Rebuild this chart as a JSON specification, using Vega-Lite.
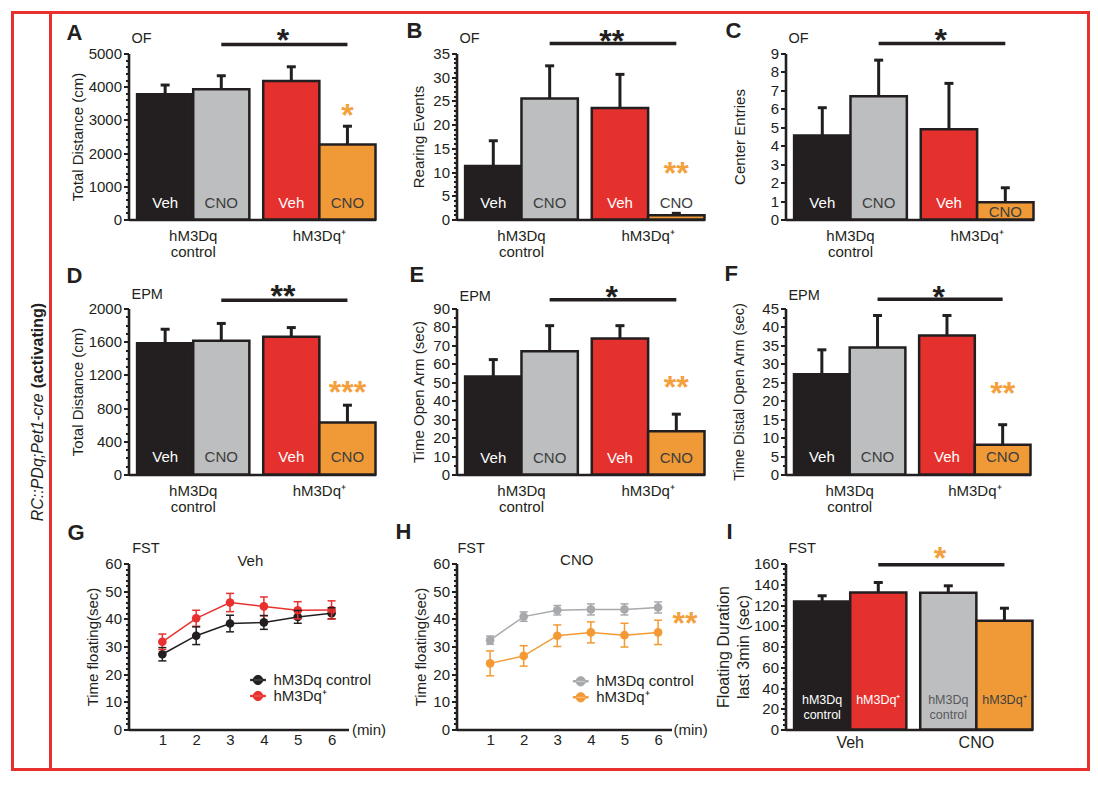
{
"$schema": "https://vega.github.io/schema/vega-lite/v6.json",
"background": "white",
"padding": {"left": 10.5, "top": 10.5, "right": 4, "bottom": 4},
"config": {
  "font": "Liberation Sans",
  "view": {"stroke": null},
  "axis": {"labelFont": "Liberation Sans", "titleFont": "Liberation Sans", "domainColor": "#231f20", "domainWidth": 2.6, "tickColor": "#231f20", "tickWidth": 2, "labelColor": "#231f20", "titleColor": "#231f20", "labelFontSize": 15, "titleFontSize": 15, "titleFontWeight": "normal", "labelPadding": 2, "grid": false, "labelOverlap": false, "tickCount": 100},
  "title": {"color": "#231f20", "font": "Liberation Sans"},
  "legend": {"labelColor": "#231f20", "labelFontSize": 15, "labelFont": "Liberation Sans"}
},
"datasets": {
  "bars": [
    {"panel": "A", "genotype": "hM3Dq control", "drug": "Veh", "mean": 3770, "sem": 280},
    {"panel": "A", "genotype": "hM3Dq control", "drug": "CNO", "mean": 3920, "sem": 410},
    {"panel": "A", "genotype": "hM3Dq⁺", "drug": "Veh", "mean": 4170, "sem": 430},
    {"panel": "A", "genotype": "hM3Dq⁺", "drug": "CNO", "mean": 2260, "sem": 550},
    {"panel": "B", "genotype": "hM3Dq control", "drug": "Veh", "mean": 11.3, "sem": 5.3},
    {"panel": "B", "genotype": "hM3Dq control", "drug": "CNO", "mean": 25.5, "sem": 6.9},
    {"panel": "B", "genotype": "hM3Dq⁺", "drug": "Veh", "mean": 23.5, "sem": 7.1},
    {"panel": "B", "genotype": "hM3Dq⁺", "drug": "CNO", "mean": 0.9, "sem": 0.4},
    {"panel": "C", "genotype": "hM3Dq control", "drug": "Veh", "mean": 4.56, "sem": 1.5},
    {"panel": "C", "genotype": "hM3Dq control", "drug": "CNO", "mean": 6.68, "sem": 1.96},
    {"panel": "C", "genotype": "hM3Dq⁺", "drug": "Veh", "mean": 4.89, "sem": 2.49},
    {"panel": "C", "genotype": "hM3Dq⁺", "drug": "CNO", "mean": 0.93, "sem": 0.79},
    {"panel": "D", "genotype": "hM3Dq control", "drug": "Veh", "mean": 1580, "sem": 170},
    {"panel": "D", "genotype": "hM3Dq control", "drug": "CNO", "mean": 1610, "sem": 210},
    {"panel": "D", "genotype": "hM3Dq⁺", "drug": "Veh", "mean": 1660, "sem": 110},
    {"panel": "D", "genotype": "hM3Dq⁺", "drug": "CNO", "mean": 627, "sem": 208},
    {"panel": "E", "genotype": "hM3Dq control", "drug": "Veh", "mean": 53.2, "sem": 9.1},
    {"panel": "E", "genotype": "hM3Dq control", "drug": "CNO", "mean": 66.8, "sem": 13.9},
    {"panel": "E", "genotype": "hM3Dq⁺", "drug": "Veh", "mean": 73.8, "sem": 6.9},
    {"panel": "E", "genotype": "hM3Dq⁺", "drug": "CNO", "mean": 23.5, "sem": 9.2},
    {"panel": "F", "genotype": "hM3Dq control", "drug": "Veh", "mean": 27.2, "sem": 6.6},
    {"panel": "F", "genotype": "hM3Dq control", "drug": "CNO", "mean": 34.4, "sem": 8.7},
    {"panel": "F", "genotype": "hM3Dq⁺", "drug": "Veh", "mean": 37.7, "sem": 5.4},
    {"panel": "F", "genotype": "hM3Dq⁺", "drug": "CNO", "mean": 8.05, "sem": 5.45},
    {"panel": "I", "genotype": "hM3Dq control", "drug": "Veh", "mean": 123.4, "sem": 5.5},
    {"panel": "I", "genotype": "hM3Dq⁺", "drug": "Veh", "mean": 132, "sem": 9.7},
    {"panel": "I", "genotype": "hM3Dq control", "drug": "CNO", "mean": 131.7, "sem": 6.8},
    {"panel": "I", "genotype": "hM3Dq⁺", "drug": "CNO", "mean": 104.8, "sem": 12.1}
  ],
  "lines": [
    {"panel": "G", "series": "hM3Dq control", "minute": 1, "mean": 27.2, "sem": 2.4},
    {"panel": "G", "series": "hM3Dq control", "minute": 2, "mean": 33.9, "sem": 3.2},
    {"panel": "G", "series": "hM3Dq control", "minute": 3, "mean": 38.3, "sem": 3.0},
    {"panel": "G", "series": "hM3Dq control", "minute": 4, "mean": 38.7, "sem": 2.5},
    {"panel": "G", "series": "hM3Dq control", "minute": 5, "mean": 40.7, "sem": 2.3},
    {"panel": "G", "series": "hM3Dq control", "minute": 6, "mean": 42.0, "sem": 2.0},
    {"panel": "G", "series": "hM3Dq⁺", "minute": 1, "mean": 31.7, "sem": 2.8},
    {"panel": "G", "series": "hM3Dq⁺", "minute": 2, "mean": 40.2, "sem": 2.9},
    {"panel": "G", "series": "hM3Dq⁺", "minute": 3, "mean": 45.9, "sem": 3.3},
    {"panel": "G", "series": "hM3Dq⁺", "minute": 4, "mean": 44.5, "sem": 3.4},
    {"panel": "G", "series": "hM3Dq⁺", "minute": 5, "mean": 43.1, "sem": 3.1},
    {"panel": "G", "series": "hM3Dq⁺", "minute": 6, "mean": 43.2, "sem": 3.3},
    {"panel": "H", "series": "hM3Dq control", "minute": 1, "mean": 32.3, "sem": 1.5},
    {"panel": "H", "series": "hM3Dq control", "minute": 2, "mean": 40.8, "sem": 1.7},
    {"panel": "H", "series": "hM3Dq control", "minute": 3, "mean": 43.1, "sem": 1.7},
    {"panel": "H", "series": "hM3Dq control", "minute": 4, "mean": 43.4, "sem": 2.0},
    {"panel": "H", "series": "hM3Dq control", "minute": 5, "mean": 43.4, "sem": 2.0},
    {"panel": "H", "series": "hM3Dq control", "minute": 6, "mean": 44.1, "sem": 2.0},
    {"panel": "H", "series": "hM3Dq⁺", "minute": 1, "mean": 23.9, "sem": 4.5},
    {"panel": "H", "series": "hM3Dq⁺", "minute": 2, "mean": 26.6, "sem": 3.7},
    {"panel": "H", "series": "hM3Dq⁺", "minute": 3, "mean": 33.9, "sem": 3.9},
    {"panel": "H", "series": "hM3Dq⁺", "minute": 4, "mean": 35.1, "sem": 3.8},
    {"panel": "H", "series": "hM3Dq⁺", "minute": 5, "mean": 34.1, "sem": 4.3},
    {"panel": "H", "series": "hM3Dq⁺", "minute": 6, "mean": 35.1, "sem": 4.4}
  ]
},
"columns": 2,
"align": "none",
"spacing": -1024,
"concat": [
  {"columns": 2, "align": "none", "spacing": -4, "concat": [
    {"width": 38, "height": 757, "view": {"stroke": "#e8312f", "strokeWidth": 3}, "data": {"values": [{}]},
     "layer": [
       {"mark": {"type": "text", "angle": 270, "align": "right", "baseline": "middle", "fontSize": 16, "fontStyle": "italic", "color": "#231f20", "text": "RC::PDq;Pet1-cre"},
        "encoding": {"x": {"datum": 0.68, "type": "quantitative", "scale": {"domain": [0, 1]}, "axis": null}, "y": {"datum": 0.497, "type": "quantitative", "scale": {"domain": [0, 1]}, "axis": null}}},
       {"mark": {"type": "text", "angle": 270, "align": "left", "baseline": "middle", "fontSize": 16, "fontWeight": "bold", "color": "#231f20", "dx": 5, "text": "(activating)"},
        "encoding": {"x": {"datum": 0.68, "type": "quantitative", "axis": null}, "y": {"datum": 0.497, "type": "quantitative", "axis": null}}}
     ]},
    {"width": 1038, "height": 757, "view": {"stroke": "#e8312f", "strokeWidth": 3}, "data": {"values": []}, "mark": "point", "encoding": {}}
  ]},
  {"spacing": 6, "vconcat": [
    {"width": 1, "height": 1, "data": {"values": []}, "mark": "point", "encoding": {}},
    {"columns": 3, "bounds": "flush", "spacing": {"row": 89, "column": 81},
     "resolve": {"scale": {"color": "independent", "xOffset": "independent"}, "legend": {"color": "independent"}},
     "concat": [
      {"width": 247, "height": 166,
       "title": {"text": "A", "anchor": "start", "frame": "group", "dx": -62, "offset": -36.8, "baseline": "alphabetic", "fontSize": 22, "fontWeight": "bold"},
       "layer": [
         {"data": {"name": "bars"},
          "transform": [{"filter": "datum.panel === 'A'"}, {"calculate": "datum.mean + datum.sem", "as": "hi"}, {"calculate": "datum.genotype + '|' + datum.drug", "as": "cond"}],
          "encoding": {
            "x": {"field": "genotype", "type": "nominal", "scale": {"domain": ["hM3Dq control", "hM3Dq⁺"], "paddingInner": 0.11, "paddingOuter": 0.034, "align": 1}, "axis": {"title": null, "ticks": false, "labelAngle": 0, "labelExpr": "split(datum.label, ' ')", "labelPadding": 9, "labelLineHeight": 16, "labelOverlap": false}},
            "xOffset": {"field": "drug", "type": "nominal", "scale": {"domain": ["Veh", "CNO"], "paddingInner": 0, "paddingOuter": 0}}
          },
          "layer": [
            {"mark": {"type": "bar", "stroke": "#231f20", "strokeWidth": 2.5, "opacity": 1},
             "encoding": {
               "y": {"field": "mean", "type": "quantitative", "scale": {"domain": [0, 5000], "nice": false}, "axis": {"title": "Total Distance (cm)", "titlePadding": 3, "labelOverlap": false, "tickCount": 100, "values": [0,200,400,600,800,1000,1200,1400,1600,1800,2000,2200,2400,2600,2800,3000,3200,3400,3600,3800,4000,4200,4400,4600,4800,5000], "format": "d", "labelExpr": "datum.value % 1000 === 0 ? datum.label : ''", "tickSize": {"condition": {"test": "datum.value % 1000 === 0", "value": 5}, "value": 3}}},
               "fill": {"field": "cond", "type": "nominal", "scale": {"domain": ["hM3Dq control|Veh", "hM3Dq control|CNO", "hM3Dq⁺|Veh", "hM3Dq⁺|CNO"], "range": ["#231f20", "#bcbec0", "#e5312e", "#f09a37"]}, "legend": null}
             }},
            {"mark": {"type": "rule", "color": "#231f20", "strokeWidth": 3}, "encoding": {"y": {"field": "mean", "type": "quantitative"}, "y2": {"field": "hi"}}},
            {"mark": {"type": "tick", "orient": "horizontal", "color": "#231f20", "size": 9, "thickness": 3, "opacity": 1}, "encoding": {"y": {"field": "hi", "type": "quantitative"}}},
            {"mark": {"type": "text", "fontSize": 15, "baseline": "alphabetic"}, "encoding": {"y": {"datum": 349}, "text": {"field": "drug"}, "color": {"condition": {"test": "datum.drug === 'Veh'", "value": "#ffffff"}, "value": "#3d3d3d"}}},
            {"transform": [{"filter": "datum.drug === 'CNO'"}], "mark": {"type": "line", "color": "#231f20", "strokeWidth": 3.5}, "encoding": {"y": {"datum": 5271}}}
          ]},
         {"data": {"values": [{}]}, "mark": {"type": "text", "text": "*", "fontSize": 32, "fontWeight": "bold", "color": "#231f20", "baseline": "alphabetic"}, "encoding": {"x": {"datum": "hM3Dq control", "bandPosition": 1.3}, "y": {"datum": 5075}}},
         {"data": {"values": [{}]}, "mark": {"type": "text", "text": "*", "fontSize": 32, "fontWeight": "bold", "color": "#f4a03c", "baseline": "alphabetic"}, "encoding": {"x": {"datum": "hM3Dq⁺", "bandPosition": 0.75}, "y": {"datum": 2816}}},
         {"data": {"values": [{}]}, "mark": {"type": "text", "text": "OF", "fontSize": 14.5, "align": "left", "baseline": "alphabetic", "color": "#231f20"}, "encoding": {"x": {"datum": "hM3Dq control", "bandPosition": -0.05}, "y": {"datum": 5325}}}
       ]},
      {"width": 248, "height": 166,
       "title": {"text": "B", "anchor": "start", "frame": "group", "dx": -50, "offset": -34.4, "baseline": "alphabetic", "fontSize": 22, "fontWeight": "bold"},
       "layer": [
         {"data": {"name": "bars"},
          "transform": [{"filter": "datum.panel === 'B'"}, {"calculate": "datum.mean + datum.sem", "as": "hi"}, {"calculate": "datum.genotype + '|' + datum.drug", "as": "cond"}],
          "encoding": {
            "x": {"field": "genotype", "type": "nominal", "scale": {"domain": ["hM3Dq control", "hM3Dq⁺"], "paddingInner": 0.11, "paddingOuter": 0.034, "align": 1}, "axis": {"title": null, "ticks": false, "labelAngle": 0, "labelExpr": "split(datum.label, ' ')", "labelPadding": 9, "labelLineHeight": 16, "labelOverlap": false}},
            "xOffset": {"field": "drug", "type": "nominal", "scale": {"domain": ["Veh", "CNO"], "paddingInner": 0, "paddingOuter": 0}}
          },
          "layer": [
            {"mark": {"type": "bar", "stroke": "#231f20", "strokeWidth": 2.5, "opacity": 1},
             "encoding": {
               "y": {"field": "mean", "type": "quantitative", "scale": {"domain": [0, 35], "nice": false}, "axis": {"title": "Rearing Events", "titlePadding": 6, "labelOverlap": false, "tickCount": 100, "values": [0,1,2,3,4,5,6,7,8,9,10,11,12,13,14,15,16,17,18,19,20,21,22,23,24,25,26,27,28,29,30,31,32,33,34,35], "format": "d", "labelExpr": "datum.value % 5 === 0 ? datum.label : ''", "tickSize": {"condition": {"test": "datum.value % 5 === 0", "value": 5}, "value": 3}}},
               "fill": {"field": "cond", "type": "nominal", "scale": {"domain": ["hM3Dq control|Veh", "hM3Dq control|CNO", "hM3Dq⁺|Veh", "hM3Dq⁺|CNO"], "range": ["#231f20", "#bcbec0", "#e5312e", "#f09a37"]}, "legend": null}
             }},
            {"mark": {"type": "rule", "color": "#231f20", "strokeWidth": 3}, "encoding": {"y": {"field": "mean", "type": "quantitative"}, "y2": {"field": "hi"}}},
            {"mark": {"type": "tick", "orient": "horizontal", "color": "#231f20", "size": 9, "thickness": 3, "opacity": 1}, "encoding": {"y": {"field": "hi", "type": "quantitative"}}},
            {"mark": {"type": "text", "fontSize": 15, "baseline": "alphabetic"}, "encoding": {"y": {"datum": 2.45}, "text": {"field": "drug"}, "color": {"condition": {"test": "datum.drug === 'Veh'", "value": "#ffffff"}, "value": "#3d3d3d"}}},
            {"transform": [{"filter": "datum.drug === 'CNO'"}], "mark": {"type": "line", "color": "#231f20", "strokeWidth": 3.5}, "encoding": {"y": {"datum": 37.1}}}
          ]},
         {"data": {"values": [{}]}, "mark": {"type": "text", "text": "**", "fontSize": 32, "fontWeight": "bold", "color": "#231f20", "baseline": "alphabetic"}, "encoding": {"x": {"datum": "hM3Dq control", "bandPosition": 1.3}, "y": {"datum": 35.4}}},
         {"data": {"values": [{}]}, "mark": {"type": "text", "text": "**", "fontSize": 32, "fontWeight": "bold", "color": "#f4a03c", "baseline": "alphabetic"}, "encoding": {"x": {"datum": "hM3Dq⁺", "bandPosition": 0.75}, "y": {"datum": 7.4}}},
         {"data": {"values": [{}]}, "mark": {"type": "text", "text": "OF", "fontSize": 14.5, "align": "left", "baseline": "alphabetic", "color": "#231f20"}, "encoding": {"x": {"datum": "hM3Dq control", "bandPosition": -0.05}, "y": {"datum": 37.3}}}
       ]},
      {"width": 248, "height": 166,
       "title": {"text": "C", "anchor": "start", "frame": "group", "dx": -60, "offset": -35.1, "baseline": "alphabetic", "fontSize": 22, "fontWeight": "bold"},
       "layer": [
         {"data": {"name": "bars"},
          "transform": [{"filter": "datum.panel === 'C'"}, {"calculate": "datum.mean + datum.sem", "as": "hi"}, {"calculate": "datum.genotype + '|' + datum.drug", "as": "cond"}],
          "encoding": {
            "x": {"field": "genotype", "type": "nominal", "scale": {"domain": ["hM3Dq control", "hM3Dq⁺"], "paddingInner": 0.11, "paddingOuter": 0.034, "align": 1}, "axis": {"title": null, "ticks": false, "labelAngle": 0, "labelExpr": "split(datum.label, ' ')", "labelPadding": 9, "labelLineHeight": 16, "labelOverlap": false}},
            "xOffset": {"field": "drug", "type": "nominal", "scale": {"domain": ["Veh", "CNO"], "paddingInner": 0, "paddingOuter": 0}}
          },
          "layer": [
            {"mark": {"type": "bar", "stroke": "#231f20", "strokeWidth": 2.5, "opacity": 1},
             "encoding": {
               "y": {"field": "mean", "type": "quantitative", "scale": {"domain": [0, 9], "nice": false}, "axis": {"title": "Center Entries", "titlePadding": 23, "labelOverlap": false, "tickCount": 100, "values": [0,0.5,1,1.5,2,2.5,3,3.5,4,4.5,5,5.5,6,6.5,7,7.5,8,8.5,9], "format": "d", "labelExpr": "datum.value % 1 === 0 ? datum.label : ''", "tickSize": {"condition": {"test": "datum.value % 1 === 0", "value": 5}, "value": 3}}},
               "fill": {"field": "cond", "type": "nominal", "scale": {"domain": ["hM3Dq control|Veh", "hM3Dq control|CNO", "hM3Dq⁺|Veh", "hM3Dq⁺|CNO"], "range": ["#231f20", "#bcbec0", "#e5312e", "#f09a37"]}, "legend": null}
             }},
            {"mark": {"type": "rule", "color": "#231f20", "strokeWidth": 3}, "encoding": {"y": {"field": "mean", "type": "quantitative"}, "y2": {"field": "hi"}}},
            {"mark": {"type": "tick", "orient": "horizontal", "color": "#231f20", "size": 9, "thickness": 3, "opacity": 1}, "encoding": {"y": {"field": "hi", "type": "quantitative"}}},
            {"transform": [{"filter": "datum.cond !== 'hM3Dq⁺|CNO'"}], "mark": {"type": "text", "fontSize": 15, "baseline": "alphabetic"}, "encoding": {"y": {"datum": 0.63}, "text": {"field": "drug"}, "color": {"condition": {"test": "datum.drug === 'Veh'", "value": "#ffffff"}, "value": "#3d3d3d"}}},
            {"transform": [{"filter": "datum.cond === 'hM3Dq⁺|CNO'"}], "mark": {"type": "text", "fontSize": 15, "baseline": "alphabetic", "color": "#3d3d3d"}, "encoding": {"y": {"datum": 0.14}, "text": {"field": "drug"}}},
            {"transform": [{"filter": "datum.drug === 'CNO'"}], "mark": {"type": "line", "color": "#231f20", "strokeWidth": 3.5}, "encoding": {"y": {"datum": 9.54}}}
          ]},
         {"data": {"values": [{}]}, "mark": {"type": "text", "text": "*", "fontSize": 32, "fontWeight": "bold", "color": "#231f20", "baseline": "alphabetic"}, "encoding": {"x": {"datum": "hM3Dq control", "bandPosition": 1.3}, "y": {"datum": 9.14}}},
         {"data": {"values": [{}]}, "mark": {"type": "text", "text": "OF", "fontSize": 14.5, "align": "left", "baseline": "alphabetic", "color": "#231f20"}, "encoding": {"x": {"datum": "hM3Dq control", "bandPosition": -0.05}, "y": {"datum": 9.59}}}
       ]},
      {"width": 247, "height": 166,
       "title": {"text": "D", "anchor": "start", "frame": "group", "dx": -62, "offset": -23.5, "baseline": "alphabetic", "fontSize": 22, "fontWeight": "bold"},
       "layer": [
         {"data": {"name": "bars"},
          "transform": [{"filter": "datum.panel === 'D'"}, {"calculate": "datum.mean + datum.sem", "as": "hi"}, {"calculate": "datum.genotype + '|' + datum.drug", "as": "cond"}],
          "encoding": {
            "x": {"field": "genotype", "type": "nominal", "scale": {"domain": ["hM3Dq control", "hM3Dq⁺"], "paddingInner": 0.11, "paddingOuter": 0.034, "align": 1}, "axis": {"title": null, "ticks": false, "labelAngle": 0, "labelExpr": "split(datum.label, ' ')", "labelPadding": 9, "labelLineHeight": 16, "labelOverlap": false}},
            "xOffset": {"field": "drug", "type": "nominal", "scale": {"domain": ["Veh", "CNO"], "paddingInner": 0, "paddingOuter": 0}}
          },
          "layer": [
            {"mark": {"type": "bar", "stroke": "#231f20", "strokeWidth": 2.5, "opacity": 1},
             "encoding": {
               "y": {"field": "mean", "type": "quantitative", "scale": {"domain": [0, 2000], "nice": false}, "axis": {"title": "Total Distance (cm)", "titlePadding": 2.5, "labelOverlap": false, "tickCount": 100, "values": [0,100,200,300,400,500,600,700,800,900,1000,1100,1200,1300,1400,1500,1600,1700,1800,1900,2000], "format": "d", "labelExpr": "datum.value % 400 === 0 ? datum.label : ''", "tickSize": {"condition": {"test": "datum.value % 400 === 0", "value": 5}, "value": 3}}},
               "fill": {"field": "cond", "type": "nominal", "scale": {"domain": ["hM3Dq control|Veh", "hM3Dq control|CNO", "hM3Dq⁺|Veh", "hM3Dq⁺|CNO"], "range": ["#231f20", "#bcbec0", "#e5312e", "#f09a37"]}, "legend": null}
             }},
            {"mark": {"type": "rule", "color": "#231f20", "strokeWidth": 3}, "encoding": {"y": {"field": "mean", "type": "quantitative"}, "y2": {"field": "hi"}}},
            {"mark": {"type": "tick", "orient": "horizontal", "color": "#231f20", "size": 9, "thickness": 3, "opacity": 1}, "encoding": {"y": {"field": "hi", "type": "quantitative"}}},
            {"mark": {"type": "text", "fontSize": 15, "baseline": "alphabetic"}, "encoding": {"y": {"datum": 152}, "text": {"field": "drug"}, "color": {"condition": {"test": "datum.drug === 'Veh'", "value": "#ffffff"}, "value": "#3d3d3d"}}},
            {"transform": [{"filter": "datum.drug === 'CNO'"}], "mark": {"type": "line", "color": "#231f20", "strokeWidth": 3.5}, "encoding": {"y": {"datum": 2100}}}
          ]},
         {"data": {"values": [{}]}, "mark": {"type": "text", "text": "**", "fontSize": 32, "fontWeight": "bold", "color": "#231f20", "baseline": "alphabetic"}, "encoding": {"x": {"datum": "hM3Dq control", "bandPosition": 1.3}, "y": {"datum": 2018}}},
         {"data": {"values": [{}]}, "mark": {"type": "text", "text": "***", "fontSize": 32, "fontWeight": "bold", "color": "#f4a03c", "baseline": "alphabetic"}, "encoding": {"x": {"datum": "hM3Dq⁺", "bandPosition": 0.75}, "y": {"datum": 865}}},
         {"data": {"values": [{}]}, "mark": {"type": "text", "text": "EPM", "fontSize": 14.5, "align": "left", "baseline": "alphabetic", "color": "#231f20"}, "encoding": {"x": {"datum": "hM3Dq control", "bandPosition": -0.05}, "y": {"datum": 2118}}}
       ]},
      {"width": 248, "height": 166,
       "title": {"text": "E", "anchor": "start", "frame": "group", "dx": -47, "offset": -22.4, "baseline": "alphabetic", "fontSize": 22, "fontWeight": "bold"},
       "layer": [
         {"data": {"name": "bars"},
          "transform": [{"filter": "datum.panel === 'E'"}, {"calculate": "datum.mean + datum.sem", "as": "hi"}, {"calculate": "datum.genotype + '|' + datum.drug", "as": "cond"}],
          "encoding": {
            "x": {"field": "genotype", "type": "nominal", "scale": {"domain": ["hM3Dq control", "hM3Dq⁺"], "paddingInner": 0.11, "paddingOuter": 0.034, "align": 1}, "axis": {"title": null, "ticks": false, "labelAngle": 0, "labelExpr": "split(datum.label, ' ')", "labelPadding": 9, "labelLineHeight": 16, "labelOverlap": false}},
            "xOffset": {"field": "drug", "type": "nominal", "scale": {"domain": ["Veh", "CNO"], "paddingInner": 0, "paddingOuter": 0}}
          },
          "layer": [
            {"mark": {"type": "bar", "stroke": "#231f20", "strokeWidth": 2.5, "opacity": 1},
             "encoding": {
               "y": {"field": "mean", "type": "quantitative", "scale": {"domain": [0, 90], "nice": false}, "axis": {"title": "Time Open Arm (sec)", "titlePadding": 6, "labelOverlap": false, "tickCount": 100, "values": [0,5,10,15,20,25,30,35,40,45,50,55,60,65,70,75,80,85,90], "format": "d", "labelExpr": "datum.value % 10 === 0 ? datum.label : ''", "tickSize": {"condition": {"test": "datum.value % 10 === 0", "value": 5}, "value": 3}}},
               "fill": {"field": "cond", "type": "nominal", "scale": {"domain": ["hM3Dq control|Veh", "hM3Dq control|CNO", "hM3Dq⁺|Veh", "hM3Dq⁺|CNO"], "range": ["#231f20", "#bcbec0", "#e5312e", "#f09a37"]}, "legend": null}
             }},
            {"mark": {"type": "rule", "color": "#231f20", "strokeWidth": 3}, "encoding": {"y": {"field": "mean", "type": "quantitative"}, "y2": {"field": "hi"}}},
            {"mark": {"type": "tick", "orient": "horizontal", "color": "#231f20", "size": 9, "thickness": 3, "opacity": 1}, "encoding": {"y": {"field": "hi", "type": "quantitative"}}},
            {"mark": {"type": "text", "fontSize": 15, "baseline": "alphabetic"}, "encoding": {"y": {"datum": 6.3}, "text": {"field": "drug"}, "color": {"condition": {"test": "datum.drug === 'Veh'", "value": "#ffffff"}, "value": "#3d3d3d"}}},
            {"transform": [{"filter": "datum.drug === 'CNO'"}], "mark": {"type": "line", "color": "#231f20", "strokeWidth": 3.5}, "encoding": {"y": {"datum": 94.7}}}
          ]},
         {"data": {"values": [{}]}, "mark": {"type": "text", "text": "*", "fontSize": 32, "fontWeight": "bold", "color": "#231f20", "baseline": "alphabetic"}, "encoding": {"x": {"datum": "hM3Dq control", "bandPosition": 1.3}, "y": {"datum": 90.4}}},
         {"data": {"values": [{}]}, "mark": {"type": "text", "text": "**", "fontSize": 32, "fontWeight": "bold", "color": "#f4a03c", "baseline": "alphabetic"}, "encoding": {"x": {"datum": "hM3Dq⁺", "bandPosition": 0.75}, "y": {"datum": 41.6}}},
         {"data": {"values": [{}]}, "mark": {"type": "text", "text": "EPM", "fontSize": 14.5, "align": "left", "baseline": "alphabetic", "color": "#231f20"}, "encoding": {"x": {"datum": "hM3Dq control", "bandPosition": -0.05}, "y": {"datum": 94.1}}}
       ]},
      {"width": 245, "height": 166,
       "title": {"text": "F", "anchor": "start", "frame": "group", "dx": -61, "offset": -21.4, "baseline": "alphabetic", "fontSize": 22, "fontWeight": "bold"},
       "layer": [
         {"data": {"name": "bars"},
          "transform": [{"filter": "datum.panel === 'F'"}, {"calculate": "datum.mean + datum.sem", "as": "hi"}, {"calculate": "datum.genotype + '|' + datum.drug", "as": "cond"}],
          "encoding": {
            "x": {"field": "genotype", "type": "nominal", "scale": {"domain": ["hM3Dq control", "hM3Dq⁺"], "paddingInner": 0.11, "paddingOuter": 0.034, "align": 1}, "axis": {"title": null, "ticks": false, "labelAngle": 0, "labelExpr": "split(datum.label, ' ')", "labelPadding": 9, "labelLineHeight": 16, "labelOverlap": false}},
            "xOffset": {"field": "drug", "type": "nominal", "scale": {"domain": ["Veh", "CNO"], "paddingInner": 0, "paddingOuter": 0}}
          },
          "layer": [
            {"mark": {"type": "bar", "stroke": "#231f20", "strokeWidth": 2.5, "opacity": 1},
             "encoding": {
               "y": {"field": "mean", "type": "quantitative", "scale": {"domain": [0, 45], "nice": false}, "axis": {"title": "Time Distal Open Arm (sec)", "titleFontSize": 14.5, "titlePadding": 15, "labelOverlap": false, "tickCount": 100, "values": [0,2.5,5,7.5,10,12.5,15,17.5,20,22.5,25,27.5,30,32.5,35,37.5,40,42.5,45], "format": "d", "labelExpr": "datum.value % 5 === 0 ? datum.label : ''", "tickSize": {"condition": {"test": "datum.value % 5 === 0", "value": 5}, "value": 3}}},
               "fill": {"field": "cond", "type": "nominal", "scale": {"domain": ["hM3Dq control|Veh", "hM3Dq control|CNO", "hM3Dq⁺|Veh", "hM3Dq⁺|CNO"], "range": ["#231f20", "#bcbec0", "#e5312e", "#f09a37"]}, "legend": null}
             }},
            {"mark": {"type": "rule", "color": "#231f20", "strokeWidth": 3}, "encoding": {"y": {"field": "mean", "type": "quantitative"}, "y2": {"field": "hi"}}},
            {"mark": {"type": "tick", "orient": "horizontal", "color": "#231f20", "size": 9, "thickness": 3, "opacity": 1}, "encoding": {"y": {"field": "hi", "type": "quantitative"}}},
            {"mark": {"type": "text", "fontSize": 15, "baseline": "alphabetic"}, "encoding": {"y": {"datum": 3.33}, "text": {"field": "drug"}, "color": {"condition": {"test": "datum.drug === 'Veh'", "value": "#ffffff"}, "value": "#3d3d3d"}}},
            {"transform": [{"filter": "datum.drug === 'CNO'"}], "mark": {"type": "line", "color": "#231f20", "strokeWidth": 3.5}, "encoding": {"y": {"datum": 47.5}}}
          ]},
         {"data": {"values": [{}]}, "mark": {"type": "text", "text": "*", "fontSize": 32, "fontWeight": "bold", "color": "#231f20", "baseline": "alphabetic"}, "encoding": {"x": {"datum": "hM3Dq control", "bandPosition": 1.3}, "y": {"datum": 45.2}}},
         {"data": {"values": [{}]}, "mark": {"type": "text", "text": "**", "fontSize": 32, "fontWeight": "bold", "color": "#f4a03c", "baseline": "alphabetic"}, "encoding": {"x": {"datum": "hM3Dq⁺", "bandPosition": 0.75}, "y": {"datum": 19.2}}},
         {"data": {"values": [{}]}, "mark": {"type": "text", "text": "EPM", "fontSize": 14.5, "align": "left", "baseline": "alphabetic", "color": "#231f20"}, "encoding": {"x": {"datum": "hM3Dq control", "bandPosition": -0.05}, "y": {"datum": 47.2}}}
       ]},
      {"width": 220, "height": 166,
       "title": {"text": "G", "anchor": "start", "frame": "group", "dx": -61, "offset": -20.1, "baseline": "alphabetic", "fontSize": 22, "fontWeight": "bold"},
       "layer": [
         {"data": {"name": "lines"},
          "transform": [{"filter": "datum.panel === 'G'"}, {"calculate": "datum.mean - datum.sem", "as": "lo"}, {"calculate": "datum.mean + datum.sem", "as": "hi"}],
          "encoding": {
            "x": {"field": "minute", "type": "quantitative", "scale": {"domain": [0, 6.5], "nice": false, "zero": false}, "axis": {"title": null, "values": [1,2,3,4,5,6], "tickCount": 100, "format": "d", "tickSize": 0, "labelPadding": 3, "labelOverlap": false, "labelFont": "Liberation Sans"}},
            "color": {"field": "series", "type": "nominal", "scale": {"domain": ["hM3Dq control", "hM3Dq⁺"], "range": ["#231f20", "#e8312f"]},
                      "legend": {"orient": "none", "legendX": 121.5, "legendY": 108.5, "title": null, "padding": 0, "rowPadding": 0, "symbolType": "M-1,-0.09H1V0.09H-1ZM-0.62,0A0.62,0.62,0,1,0,0.62,0A0.62,0.62,0,1,0,-0.62,0Z", "symbolSize": 225, "symbolStrokeWidth": 1, "labelOffset": 7.5, "labelFontSize": 15, "labelLimit": 200}}
          },
          "layer": [
            {"mark": {"type": "point", "filled": true, "size": 75, "opacity": 1}, "encoding": {"y": {"field": "mean", "type": "quantitative", "scale": {"domain": [0, 60], "nice": false}, "axis": {"title": "Time floating(sec)", "titlePadding": 4, "labelOverlap": false, "tickCount": 100, "values": [0,2,4,6,8,10,12,14,16,18,20,22,24,26,28,30,32,34,36,38,40,42,44,46,48,50,52,54,56,58,60], "format": "d", "labelExpr": "datum.value % 10 === 0 ? datum.label : ''", "tickSize": {"condition": {"test": "datum.value % 10 === 0", "value": 5}, "value": 3}}}}},
            {"mark": {"type": "line", "strokeWidth": 1.5}, "encoding": {"y": {"field": "mean", "type": "quantitative"}}},
            {"mark": {"type": "rule", "strokeWidth": 1.5}, "encoding": {"y": {"field": "lo", "type": "quantitative"}, "y2": {"field": "hi"}}},
            {"mark": {"type": "tick", "orient": "horizontal", "size": 8, "thickness": 1.5, "opacity": 1}, "encoding": {"y": {"field": "lo", "type": "quantitative"}}},
            {"mark": {"type": "tick", "orient": "horizontal", "size": 8, "thickness": 1.5, "opacity": 1}, "encoding": {"y": {"field": "hi", "type": "quantitative"}}}
          ]},
         {"data": {"values": [{}]}, "mark": {"type": "text", "text": "FST", "fontSize": 14.5, "align": "left", "baseline": "alphabetic", "color": "#231f20"}, "encoding": {"x": {"datum": 0.11}, "y": {"datum": 63.65}}},
         {"data": {"values": [{}]}, "mark": {"type": "text", "text": "Veh", "fontSize": 15, "align": "center", "baseline": "alphabetic", "color": "#231f20"}, "encoding": {"x": {"datum": 3.6}, "y": {"datum": 59.0}}},
         {"data": {"values": [{}]}, "mark": {"type": "text", "text": "(min)", "fontSize": 15, "align": "left", "baseline": "middle", "color": "#231f20"}, "encoding": {"x": {"datum": 6.6}, "y": {"datum": 0}}}
       ]},
      {"width": 215, "height": 166,
       "title": {"text": "H", "anchor": "start", "frame": "group", "dx": -61, "offset": -19.1, "baseline": "alphabetic", "fontSize": 22, "fontWeight": "bold"},
       "layer": [
         {"data": {"name": "lines"},
          "transform": [{"filter": "datum.panel === 'H'"}, {"calculate": "datum.mean - datum.sem", "as": "lo"}, {"calculate": "datum.mean + datum.sem", "as": "hi"}],
          "encoding": {
            "x": {"field": "minute", "type": "quantitative", "scale": {"domain": [0, 6.4], "nice": false, "zero": false}, "axis": {"title": null, "values": [1,2,3,4,5,6], "tickCount": 100, "format": "d", "tickSize": 0, "labelPadding": 3, "labelOverlap": false, "labelFont": "Liberation Sans"}},
            "color": {"field": "series", "type": "nominal", "scale": {"domain": ["hM3Dq control", "hM3Dq⁺"], "range": ["#a7a9ac", "#f39a34"]},
                      "legend": {"orient": "none", "legendX": 116.2, "legendY": 109.8, "title": null, "padding": 0, "rowPadding": 0, "symbolType": "M-1,-0.09H1V0.09H-1ZM-0.62,0A0.62,0.62,0,1,0,0.62,0A0.62,0.62,0,1,0,-0.62,0Z", "symbolSize": 225, "symbolStrokeWidth": 1, "labelOffset": 7.5, "labelFontSize": 15, "labelLimit": 200}}
          },
          "layer": [
            {"mark": {"type": "point", "filled": true, "size": 75, "opacity": 1}, "encoding": {"y": {"field": "mean", "type": "quantitative", "scale": {"domain": [0, 60], "nice": false}, "axis": {"title": "Time floating(sec)", "titlePadding": 4, "labelOverlap": false, "tickCount": 100, "values": [0,2,4,6,8,10,12,14,16,18,20,22,24,26,28,30,32,34,36,38,40,42,44,46,48,50,52,54,56,58,60], "format": "d", "labelExpr": "datum.value % 10 === 0 ? datum.label : ''", "tickSize": {"condition": {"test": "datum.value % 10 === 0", "value": 5}, "value": 3}}}}},
            {"mark": {"type": "line", "strokeWidth": 1.5}, "encoding": {"y": {"field": "mean", "type": "quantitative"}}},
            {"mark": {"type": "rule", "strokeWidth": 1.5}, "encoding": {"y": {"field": "lo", "type": "quantitative"}, "y2": {"field": "hi"}}},
            {"mark": {"type": "tick", "orient": "horizontal", "size": 8, "thickness": 1.5, "opacity": 1}, "encoding": {"y": {"field": "lo", "type": "quantitative"}}},
            {"mark": {"type": "tick", "orient": "horizontal", "size": 8, "thickness": 1.5, "opacity": 1}, "encoding": {"y": {"field": "hi", "type": "quantitative"}}}
          ]},
         {"data": {"values": [{}]}, "mark": {"type": "text", "text": "FST", "fontSize": 14.5, "align": "left", "baseline": "alphabetic", "color": "#231f20"}, "encoding": {"x": {"datum": 0.03}, "y": {"datum": 63.65}}},
         {"data": {"values": [{}]}, "mark": {"type": "text", "text": "CNO", "fontSize": 15, "align": "center", "baseline": "alphabetic", "color": "#231f20"}, "encoding": {"x": {"datum": 3.58}, "y": {"datum": 59.4}}},
         {"data": {"values": [{}]}, "mark": {"type": "text", "text": "**", "fontSize": 32, "fontWeight": "bold", "align": "center", "baseline": "alphabetic", "color": "#f4a03c"}, "encoding": {"x": {"datum": 6.8}, "y": {"datum": 34.4}}},
         {"data": {"values": [{}]}, "mark": {"type": "text", "text": "(min)", "fontSize": 15, "align": "left", "baseline": "middle", "color": "#231f20"}, "encoding": {"x": {"datum": 6.46}, "y": {"datum": 0}}}
       ]},
      {"width": 247, "height": 166,
       "title": {"text": "I", "anchor": "start", "frame": "group", "dx": -59, "offset": -19.1, "baseline": "alphabetic", "fontSize": 22, "fontWeight": "bold"},
       "layer": [
         {"data": {"name": "bars"},
          "transform": [{"filter": "datum.panel === 'I'"}, {"calculate": "datum.mean + datum.sem", "as": "hi"}, {"calculate": "datum.genotype + '|' + datum.drug", "as": "cond"}, {"calculate": "split(datum.genotype, ' ')", "as": "lab"}],
          "encoding": {
            "x": {"field": "drug", "type": "nominal", "scale": {"domain": ["Veh", "CNO"], "paddingInner": 0.11, "paddingOuter": 0.034, "align": 1}, "axis": {"title": null, "ticks": false, "labelAngle": 0, "labelPadding": 5, "labelFontSize": 16, "labelOverlap": false}},
            "xOffset": {"field": "genotype", "type": "nominal", "scale": {"domain": ["hM3Dq control", "hM3Dq⁺"], "paddingInner": 0, "paddingOuter": 0}}
          },
          "layer": [
            {"mark": {"type": "bar", "stroke": "#231f20", "strokeWidth": 2.5, "opacity": 1},
             "encoding": {
               "y": {"field": "mean", "type": "quantitative", "scale": {"domain": [0, 160], "nice": false}, "axis": {"title": ["Floating Duration", "last 3min (sec)"], "titleFontSize": 16, "titleLineHeight": 20, "titlePadding": 2, "labelOverlap": false, "tickCount": 100, "values": [0,5,10,15,20,25,30,35,40,45,50,55,60,65,70,75,80,85,90,95,100,105,110,115,120,125,130,135,140,145,150,155,160], "format": "d", "labelExpr": "datum.value % 20 === 0 ? datum.label : ''", "tickSize": {"condition": {"test": "datum.value % 20 === 0", "value": 5}, "value": 3}}},
               "fill": {"field": "cond", "type": "nominal", "scale": {"domain": ["hM3Dq control|Veh", "hM3Dq control|CNO", "hM3Dq⁺|Veh", "hM3Dq⁺|CNO"], "range": ["#231f20", "#bcbec0", "#e5312e", "#f09a37"]}, "legend": null}
             }},
            {"mark": {"type": "rule", "color": "#231f20", "strokeWidth": 3}, "encoding": {"y": {"field": "mean", "type": "quantitative"}, "y2": {"field": "hi"}}},
            {"mark": {"type": "tick", "orient": "horizontal", "color": "#231f20", "size": 9, "thickness": 3, "opacity": 1}, "encoding": {"y": {"field": "hi", "type": "quantitative"}}},
            {"mark": {"type": "text", "fontSize": 12.5, "lineHeight": 15, "baseline": "alphabetic"}, "encoding": {"y": {"datum": 24.9}, "text": {"field": "lab"}, "color": {"condition": [{"test": "datum.drug === 'Veh'", "value": "#ffffff"}, {"test": "datum.genotype === 'hM3Dq control'", "value": "#58595b"}], "value": "#3d3d3d"}}},
            {"transform": [{"filter": "datum.genotype === 'hM3Dq⁺'"}], "mark": {"type": "line", "color": "#231f20", "strokeWidth": 3.5}, "encoding": {"y": {"datum": 158.7}}}
          ]},
         {"data": {"values": [{}]}, "mark": {"type": "text", "text": "*", "fontSize": 32, "fontWeight": "bold", "color": "#f4a03c", "baseline": "alphabetic"}, "encoding": {"x": {"datum": "Veh", "bandPosition": 1.3}, "y": {"datum": 154.4}}},
         {"data": {"values": [{}]}, "mark": {"type": "text", "text": "FST", "fontSize": 14.5, "align": "left", "baseline": "alphabetic", "color": "#231f20"}, "encoding": {"x": {"datum": "Veh", "bandPosition": -0.05}, "y": {"datum": 169.7}}}
       ]}
    ]}
  ]}
]
}
